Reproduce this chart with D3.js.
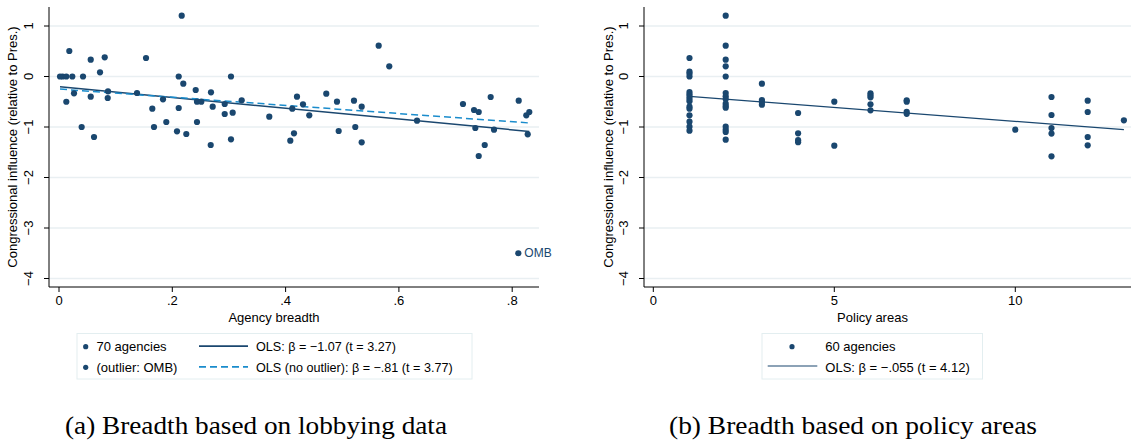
<!DOCTYPE html>
<html>
<head>
<meta charset="utf-8">
<script src="https://cdn.jsdelivr.net/npm/d3@7"></script>
<style>
  body { margin: 0; background: #fff; }
  svg { display: block; }
  .tick-label, .axis-title, .legend-text { font-family: "Liberation Sans", Arial, sans-serif; fill: #000; }
  .caption { font-family: "Liberation Serif", "DejaVu Serif", serif; fill: #000; }
</style>
</head>
<body>
<svg id="chart" width="1132" height="442"></svg>
<script>
// ---- data ----
// panel (a): agency breadth from lobbying data
const agencyBreadth = [
  .0065, .0129, .0235, .0182, .0424, .056, .0807, .0724, .0129, .0265,
  .056, .0865, .086, .040, .0618, .1536, .1377, .1647, .1836, .1677,
  .1894, .2166, .2113, .2194, .2413, .2683, .3036, .2436, .2512, .2113,
  .2713, .2925, .3225, .2925, .3066, .2436, .2083, .2247, .3036, .2678,
  .3712, .4083, .5643, .583, .4201, .4307, .4118, .4418, .4718, .4907,
  .5207, .5343, .4148, .4937, .523, .5343, .632, .7131, .7326, .7409,
  .762, .8115, .8249, .8302, .7349, .7679, .8274, .7515, .7409, .0018
];
const influenceA = [
  0, 0, 0, .505, 0, .333, .38, .083, -.50, -.333,
  -.40, -.293, -.426, -1.0, -1.198, .366, -.327, -.638, -.451, -1.0,
  -.901, 1.204, 0, -.143, -.267, -.313, 0, -.499, -.499, -.624,
  -.598, -.545, -.471, -.743, -.717, -.901, -1.085, -1.139, -1.244, -1.356,
  -.796, -1.271, .61, .202, -.40, -.55, -.638, -.768, -.341, -.499,
  -.479, -.598, -1.125, -1.079, -1.0, -1.303, -.875, -.545, -.663, -.703,
  -.406, -.479, -.768, -.703, -1.02, -1.053, -1.145, -1.356, -1.574, 0
];
const outlierA = { name: "OMB", breadth: .8108, influence: -3.50 };

// OLS fits (intercept, slope)
const fitAll = { b0: -0.20, b1: -1.07 };
const fitNoOutlier = { b0: -0.248, b1: -0.81 };

// panel (b): number of policy areas
const policyAreas = [
  1, 1, 1, 1, 1, 1, 1, 1, 1, 1, 1, 1, 1, 1, 1,
  2, 2, 2, 2, 2, 2, 2, 2, 2, 2, 2, 2, 2, 2, 2,
  3, 3, 3, 3,
  4, 4, 4, 4,
  5, 5,
  6, 6, 6, 6, 6,
  7, 7, 7, 7,
  10,
  11, 11, 11, 11, 11,
  12, 12, 12, 12,
  13
];
const influenceB = [
  .366, .095, .056, 0, -.307, -.353, -.40, -.446, -.491, -.598, -.637, -.769, -.895, -.994, -1.073,
  1.204, .61, .333, .202, 0, -.327, -.393, -.446, -.538, -.584, -.617, -.994, -1.053, -1.099, -1.251,
  -.142, -.465, -.505, -.558,
  -.723, -1.125, -1.26, -1.30,
  -.499, -1.37,
  -.333, -.373, -.413, -.551, -.67,
  -.47, -.50, -.70, -.74,
  -1.053,
  -.406, -.762, -1.02, -1.13, -1.58,
  -.479, -.703, -1.198, -1.363,
  -.868
];
const fitB = { b0: -0.338, b1: -0.055 };

const yTicks = [1, 0, -1, -2, -3, -4];
const xTicksA = [0, .2, .4, .6, .8];
const xTickLabelsA = ["0", ".2", ".4", ".6", ".8"];
const xTicksB = [0, 5, 10];
const xTickLabelsB = ["0", "5", "10"];

const legendA = [
  "70 agencies", "(outlier: OMB)",
  "OLS: \u03b2 = \u22121.07 (t = 3.27)", "OLS (no outlier): \u03b2 = \u2212.81 (t = 3.77)"
];
const legendB = ["60 agencies", "OLS: \u03b2 = \u2212.055 (t = 4.12)"];

// ---- style ----
const navy = "#1a476f";
const cyan = "#1a8ccc";
const gridColor = "#e9eff2";

const svg = d3.select("#chart");

const y = d3.scaleLinear().domain([1, -4]).range([26, 278.5]);
const xA = d3.scaleLinear().domain([0, .8]).range([59, 512.2]);
const xB = d3.scaleLinear().domain([0, 10]).range([653.3, 1015.3]);

function drawFrame(g, x, left, right, xTicks, xLabels, xTitle, xTitleX, yTitleX, yLabelX) {
  const top = 7, bottom = 287;
  // gridlines
  g.selectAll("line.grid").data(yTicks).enter().append("line")
    .attr("class", "grid")
    .attr("x1", left).attr("x2", right)
    .attr("y1", d => y(d)).attr("y2", d => y(d))
    .attr("stroke", gridColor).attr("stroke-width", 1.6);
  // axis lines
  g.append("line").attr("x1", left).attr("x2", left).attr("y1", top).attr("y2", bottom)
    .attr("stroke", "#000").attr("stroke-width", 1);
  g.append("line").attr("x1", left).attr("x2", right).attr("y1", bottom).attr("y2", bottom)
    .attr("stroke", "#000").attr("stroke-width", 1);
  // y ticks + labels (vertical)
  g.selectAll("line.ytick").data(yTicks).enter().append("line")
    .attr("x1", left - 5).attr("x2", left).attr("y1", d => y(d)).attr("y2", d => y(d))
    .attr("stroke", "#000");
  g.selectAll("text.ylab").data(yTicks).enter().append("text")
    .attr("class", "tick-label")
    .attr("transform", d => `translate(${yLabelX},${y(d)}) rotate(-90)`)
    .attr("text-anchor", "middle")
    .attr("font-size", 13)
    .text(d => d < 0 ? "\u2212" + Math.abs(d) : d);
  // x ticks + labels
  g.selectAll("line.xtick").data(xTicks).enter().append("line")
    .attr("x1", d => x(d)).attr("x2", d => x(d)).attr("y1", bottom).attr("y2", bottom + 5)
    .attr("stroke", "#000");
  g.selectAll("text.xlab").data(xTicks).enter().append("text")
    .attr("class", "tick-label")
    .attr("x", d => x(d)).attr("y", 305)
    .attr("text-anchor", "middle")
    .attr("font-size", 13)
    .text((d, i) => xLabels[i]);
  // titles
  g.append("text").attr("class", "axis-title")
    .attr("x", xTitleX).attr("y", 322)
    .attr("text-anchor", "middle").attr("font-size", 13)
    .text(xTitle);
  g.append("text").attr("class", "axis-title")
    .attr("transform", `translate(${yTitleX},147) rotate(-90)`)
    .attr("text-anchor", "middle").attr("font-size", 13)
    .text("Congressional influence (relative to Pres.)");
}

function fitLine(g, x, fit, xs, color, width, dash) {
  const ext = d3.extent(xs);
  const line = d3.line().x(d => x(d)).y(d => y(fit.b0 + fit.b1 * d));
  g.append("path").datum(ext)
    .attr("d", line)
    .attr("fill", "none")
    .attr("stroke", color)
    .attr("stroke-width", width)
    .attr("stroke-dasharray", dash || null);
}

// ---- panel (a) ----
const gA = svg.append("g");
drawFrame(gA, xA, 49, 539, xTicksA, xTickLabelsA, "Agency breadth", 274, 17, 33);

const allBreadth = agencyBreadth.concat([outlierA.breadth]);
fitLine(gA, xA, fitAll, allBreadth, navy, 1.5);
fitLine(gA, xA, fitNoOutlier, agencyBreadth, cyan, 1.5, "7,4");

gA.selectAll("circle.pt").data(d3.zip(agencyBreadth, influenceA)).enter().append("circle")
  .attr("cx", d => xA(d[0])).attr("cy", d => y(d[1])).attr("r", 3.1)
  .attr("fill", navy);
gA.append("circle")
  .attr("cx", xA(outlierA.breadth)).attr("cy", y(outlierA.influence)).attr("r", 3.1)
  .attr("fill", navy);
gA.append("text").attr("class", "tick-label")
  .attr("x", xA(outlierA.breadth) + 6).attr("y", y(outlierA.influence) + 4.2)
  .attr("font-size", 12).style("fill", navy)
  .text(outlierA.name);

// legend (a)
const lgA = gA.append("g");
lgA.append("rect").attr("x", 77).attr("y", 333.5).attr("width", 395).attr("height", 45.5)
  .attr("fill", "#fff").attr("stroke", "#e3eef0").attr("stroke-width", 1);
[346.7, 367.3].forEach((yy, i) => {
  lgA.append("circle").attr("cx", 85.7).attr("cy", yy).attr("r", 2.6).attr("fill", navy);
  lgA.append("text").attr("class", "legend-text").attr("x", 96.5).attr("y", yy + 4.6)
    .attr("font-size", 13).text(legendA[i]);
  lgA.append("line").attr("x1", 199).attr("x2", 248).attr("y1", yy - 0.5).attr("y2", yy - 0.5)
    .attr("stroke", i === 0 ? navy : cyan).attr("stroke-width", 1.7)
    .attr("stroke-dasharray", i === 0 ? null : "7,4");
  lgA.append("text").attr("class", "legend-text").attr("x", 256).attr("y", yy + 4.6)
    .attr("font-size", 12.6).text(legendA[i + 2]);
});

svg.append("text").attr("class", "caption")
  .attr("x", 256).attr("y", 434).attr("text-anchor", "middle").attr("font-size", 26)
  .attr("textLength", 382).attr("lengthAdjust", "spacingAndGlyphs")
  .text("(a) Breadth based on lobbying data");

// ---- panel (b) ----
const gB = svg.append("g");
drawFrame(gB, xB, 644, 1131, xTicksB, xTickLabelsB, "Policy areas", 872.5, 613, 628);

fitLine(gB, xB, fitB, policyAreas, navy, 1.2);

gB.selectAll("circle.pt").data(d3.zip(policyAreas, influenceB)).enter().append("circle")
  .attr("cx", d => xB(d[0])).attr("cy", d => y(d[1])).attr("r", 3.1)
  .attr("fill", navy);

const lgB = gB.append("g");
lgB.append("rect").attr("x", 762).attr("y", 333.5).attr("width", 220.5).attr("height", 45.5)
  .attr("fill", "#fff").attr("stroke", "#e3eef0").attr("stroke-width", 1);
lgB.append("circle").attr("cx", 792).attr("cy", 346.7).attr("r", 2.6).attr("fill", navy);
lgB.append("text").attr("class", "legend-text").attr("x", 825.3).attr("y", 351.3)
  .attr("font-size", 13).text(legendB[0]);
lgB.append("line").attr("x1", 767.7).attr("x2", 817.3).attr("y1", 366).attr("y2", 366)
  .attr("stroke", navy).attr("stroke-width", 1.2);
lgB.append("text").attr("class", "legend-text").attr("x", 825.3).attr("y", 371.9)
  .attr("font-size", 13).text(legendB[1]);

svg.append("text").attr("class", "caption")
  .attr("x", 853).attr("y", 434).attr("text-anchor", "middle").attr("font-size", 26)
  .attr("textLength", 368).attr("lengthAdjust", "spacingAndGlyphs")
  .text("(b) Breadth based on policy areas");
</script>
</body>
</html>
